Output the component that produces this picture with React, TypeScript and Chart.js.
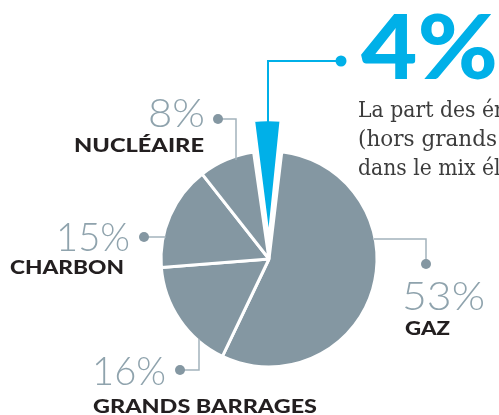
import React, { useEffect, useRef } from "react";
import { Chart, registerables } from "chart.js";

Chart.register(...registerables);

const categories = ["Énergies renouvelables", "Gaz", "Grands barrages", "Charbon", "Nucléaire"];
const values = [4, 53, 16, 15, 8];
const percentLabels = ["4%", "53%", "16%", "15%", "8%"];
const nameLabels = ["", "GAZ", "GRANDS BARRAGES", "CHARBON", "NUCLÉAIRE"];
const bodyLines = ["La part des énergies", "(hors grands barrages)", "dans le mix électrique"];

const BLUE = "#00b0e8";
const GRAY = "#8497a2";
const NUM_GRAY = "#8fa3ad";
const LINE_GRAY = "#a3b3bc";
const INK = "#231f20";

function drawFit(ctx: CanvasRenderingContext2D, text: string, x: number, y: number, font: string, color: string, targetW: number, prefix?: string) {
  ctx.save();
  ctx.font = font;
  ctx.fillStyle = color;
  ctx.textAlign = "left";
  ctx.textBaseline = "alphabetic";
  const w = ctx.measureText(prefix ?? text).width;
  const s = w > 0 ? targetW / w : 1;
  ctx.translate(x, y);
  ctx.scale(s, 1);
  ctx.fillText(text, 0, 0);
  ctx.restore();
}

const annotations = {
  id: "annotations",
  afterDatasetsDraw(chart: any) {
    const ctx: CanvasRenderingContext2D = chart.ctx;
    const line = (pts: number[][], color: string, w: number) => {
      ctx.save();
      ctx.strokeStyle = color;
      ctx.lineWidth = w;
      ctx.beginPath();
      pts.forEach((p, i) => (i ? ctx.lineTo(p[0], p[1]) : ctx.moveTo(p[0], p[1])));
      ctx.stroke();
      ctx.restore();
    };
    const dot = (x: number, y: number, r: number, color: string) => {
      ctx.save();
      ctx.fillStyle = color;
      ctx.beginPath();
      ctx.arc(x, y, r, 0, Math.PI * 2);
      ctx.fill();
      ctx.restore();
    };

    // connectors
    line([[341, 61], [268, 61], [268, 122]], BLUE, 2);
    dot(341, 61, 5.5, BLUE);
    line([[218, 119], [236, 119], [236, 160]], LINE_GRAY, 1.5);
    dot(218, 119, 5, GRAY);
    line([[144, 237], [166, 237]], LINE_GRAY, 1.5);
    dot(144, 237, 5, GRAY);
    line([[374, 239], [426, 239], [426, 264]], LINE_GRAY, 1.5);
    dot(426, 264, 5, GRAY);
    line([[180, 370], [199, 370], [199, 339]], LINE_GRAY, 1.5);
    dot(180, 370, 5, GRAY);

    const big = "900 89px Lato";
    const light = "300 40px Lato";
    const bold = "900 19.5px Lato";
    const body = "300 23px 'DejaVu Serif'";

    // headline
    drawFit(ctx, percentLabels[0], 361, 79, big, BLUE, 137);
    drawFit(ctx, bodyLines[0], 358, 117, body, "#3c3c3c", 124, "La part des ");
    drawFit(ctx, bodyLines[1], 358, 146, body, "#3c3c3c", 139, "(hors grands");
    drawFit(ctx, bodyLines[2], 358, 175, body, "#3c3c3c", 124, "dans le mix ");

    // slice labels: [percent x, baseline, width], [name x, baseline, width]
    drawFit(ctx, percentLabels[4], 148, 127, light, NUM_GRAY, 57);
    drawFit(ctx, nameLabels[4], 74, 152, bold, INK, 130);
    drawFit(ctx, percentLabels[3], 56, 251, light, NUM_GRAY, 74);
    drawFit(ctx, nameLabels[3], 10, 274, bold, INK, 114);
    drawFit(ctx, percentLabels[1], 402, 310, light, NUM_GRAY, 83);
    drawFit(ctx, nameLabels[1], 405, 335, bold, INK, 45);
    drawFit(ctx, percentLabels[2], 92, 385, light, NUM_GRAY, 74);
    drawFit(ctx, nameLabels[2], 93, 413, bold, INK, 224);
  },
};

export default function App() {
  const ref = useRef<HTMLCanvasElement>(null);
  useEffect(() => {
    if (!ref.current) return;
    const chart = new Chart(ref.current, {
      type: "pie",
      data: {
        labels: categories,
        datasets: [
          {
            data: values,
            backgroundColor: [BLUE, GRAY, GRAY, GRAY, GRAY],
            borderColor: "#ffffff",
            borderWidth: 3,
            offset: [72, 0, 0, 0, 0],
          },
        ],
      },
      options: {
        responsive: false,
        animation: false,
        events: [],
        rotation: -8.2,
        radius: 108,
        layout: { padding: { left: 39, right: 0, top: 103, bottom: 0 } },
        plugins: { legend: { display: false }, tooltip: { enabled: false } },
      } as any,
      plugins: [annotations],
    });
    return () => chart.destroy();
  }, []);
  return (
    <div style={{ position: "absolute", left: 0, top: 0, width: 499, height: 415, background: "#fff" }}>
      <canvas ref={ref} width={499} height={415} style={{ display: "block" }} />
    </div>
  );
}
